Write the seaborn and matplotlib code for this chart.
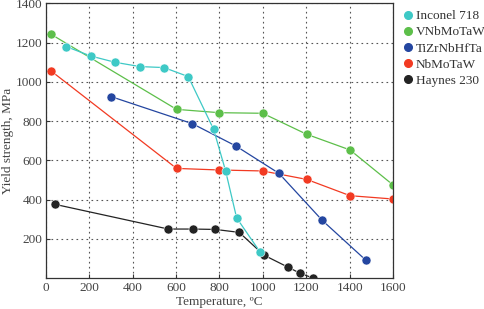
import matplotlib
matplotlib.use("Agg")
import matplotlib.pyplot as plt
from matplotlib.lines import Line2D
import seaborn as sns
import pandas as pd

inconel_t = [93, 206, 318, 433, 544, 656, 773, 828, 879, 987]
inconel_s = [1180, 1132, 1100, 1078, 1073, 1027, 758, 547, 307, 133]
vnb_t = [23, 602, 799, 999, 1202, 1402, 1601]
vnb_s = [1243, 860, 843, 840, 733, 653, 474]
tizr_t = [300, 675, 876, 1074, 1274, 1474]
tizr_s = [925, 787, 673, 534, 294, 92]
nbmo_t = [23, 602, 799, 999, 1202, 1402, 1601]
nbmo_s = [1056, 559, 551, 546, 503, 420, 403]
haynes_t = [41, 564, 676, 781, 891, 1005, 1117, 1171, 1232]
haynes_s = [376, 250, 250, 248, 233, 117, 55, 25, 0]

names = ["Inconel 718", "VNbMoTaW", "TiZrNbHfTa", "NbMoTaW", "Haynes 230"]
colors = ["#3ec9c6", "#5dbf4a", "#2446a0", "#f23a22", "#232323"]
series = [(inconel_t, inconel_s), (vnb_t, vnb_s), (tizr_t, tizr_s),
          (nbmo_t, nbmo_s), (haynes_t, haynes_s)]

rows = []
for n, (ts, ss) in zip(names, series):
    for i, (t, s) in enumerate(zip(ts, ss)):
        rows.append({"alloy": n, "T": t, "S": s, "i": i})
df = pd.DataFrame(rows)

sns.set_style("ticks")
plt.rcParams["font.family"] = ["Liberation Serif", "DejaVu Serif"]

fig = plt.figure(figsize=(4.84, 3.09), dpi=100)
ax = fig.add_axes([0.095, 0.100, 0.717, 0.889])

for n, c in zip(names[::-1], colors[::-1]):
    sub = df[df.alloy == n]
    sns.lineplot(data=sub, x="T", y="S", color=c, marker="o", markersize=6.5,
                 markeredgecolor="white", markeredgewidth=0.4, linewidth=0.9,
                 sort=False, estimator=None, ax=ax, legend=False)

ax.set_xlim(0, 1600)
ax.set_ylim(0, 1400)
ax.set_xticks(range(0, 1601, 200))
ax.set_yticks(range(200, 1401, 200))
ax.grid(True, linestyle=(0, (1.5, 3)), color="#555555", linewidth=0.8)
for sp in ax.spines.values():
    sp.set_visible(True)
    sp.set_color("#333333")
    sp.set_linewidth(0.9)
ax.tick_params(labelsize=9.5, length=3, direction="in", colors="#333333",
               labelcolor="#444444", pad=2.5)
ax.set_xlabel("Temperature, ºC", fontsize=9.5, color="#444444", labelpad=2)
ax.set_ylabel("Yield strength, MPa", fontsize=9.5, color="#444444", labelpad=1)

handles = [Line2D([], [], linestyle="none", marker="o", color=c, markersize=5.5)
           for c in colors]
leg = fig.legend(handles, names, loc="upper left", bbox_to_anchor=(0.815, 0.985),
                 frameon=False, fontsize=9.5, handletextpad=0.0, labelspacing=0.3,
                 handlelength=1.2, borderaxespad=0)
for t in leg.get_texts():
    t.set_color("#333333")

fig.savefig("out.png", dpi=100)
